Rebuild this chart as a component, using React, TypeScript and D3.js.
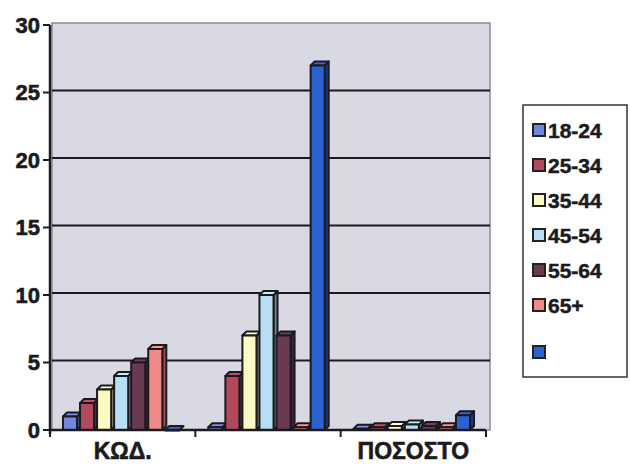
import React from "react";
import * as d3 from "d3";

const categories = ["ΚΩΔ.", "", "ΠΟΣΟΣΤΟ"];
const seriesNames = ["18-24", "25-34", "35-44", "45-54", "55-64", "65+", ""];
const seriesColors = ["#7088dc", "#b24a5e", "#fafac2", "#b8def6", "#6a3a52", "#f08a8a", "#2c62cf"];
const s1824 = [1, 0.2, 0.1];
const s2534 = [2, 4, 0.2];
const s3544 = [3, 7, 0.3];
const s4554 = [4, 10, 0.4];
const s5564 = [5, 7, 0.3];
const s65 = [6, 0.2, 0.2];
const sBlank = [0, 27, 1.1];
const seriesValues = [s1824, s2534, s3544, s4554, s5564, s65, sBlank];
const yTicks = [0, 5, 10, 15, 20, 25, 30];

export default function App() {
  const W = 630, H = 467;
  const left = 50, right = 486, top = 25, bottom = 430;
  const y = d3.scaleLinear().domain([0, 30]).range([bottom, top]);
  const x0 = d3.scaleBand<string>().domain(categories.map((_, i) => String(i))).range([left, right]).paddingInner(0).paddingOuter(0);
  const x1 = d3.scaleBand<string>().domain(seriesNames.map((_, i) => String(i))).range([0, x0.bandwidth()]).paddingInner(0).paddingOuter(0.76);
  const dep = 4;
  const font = "'Liberation Sans', Arial, sans-serif";
  const ink = "#1c1a1e";

  const bars: React.ReactNode[] = [];
  categories.forEach((c, ci) => {
    seriesValues.forEach((vals, si) => {
      const v = vals[ci];
      const bx = (x0(String(ci)) as number) + (x1(String(si)) as number);
      const bw = x1.bandwidth() - 3;
      const by = y(v);
      const bh = bottom - by;
      const col = seriesColors[si];
      const dark = d3.color(col)!.darker(1.4).formatHex();
      const light = d3.color(col)!.brighter(0.2).formatHex();
      bars.push(
        <g key={ci + "-" + si} stroke={ink} strokeWidth={2} strokeLinejoin="round">
          <path d={`M${bx + bw},${by} L${bx + bw + dep},${by - dep} L${bx + bw + dep},${bottom - dep} L${bx + bw},${bottom} Z`} fill={dark} />
          <path d={`M${bx},${by} L${bx + dep},${by - dep} L${bx + bw + dep},${by - dep} L${bx + bw},${by} Z`} fill={light} />
          <rect x={bx} y={by} width={bw} height={Math.max(bh, 0.5)} fill={col} />
        </g>
      );
    });
  });

  return (
    <svg width={W} height={H} style={{ position: "absolute", left: 0, top: 0, background: "#ffffff" }}>
      <rect x={left + 2} y={top - 2} width={right + 4 - left - 2} height={bottom - top + 2} fill="#d9d9e3" stroke="#8a8a95" strokeWidth={1.5} />
      {yTicks.filter(t => t > 0 && t < 30).map(t => (
        <line key={t} x1={left + 2} x2={right + 4} y1={y(t) - 2} y2={y(t) - 2} stroke={ink} strokeWidth={2} />
      ))}
      {bars}
      <line x1={left} x2={left} y1={top} y2={bottom + 4} stroke={ink} strokeWidth={2.5} />
      <line x1={left} x2={right} y1={bottom} y2={bottom} stroke={ink} strokeWidth={2.5} />
      {yTicks.map(t => (
        <g key={t}>
          <line x1={left - 7} x2={left} y1={y(t)} y2={y(t)} stroke={ink} strokeWidth={2} />
          <text x={left - 10} y={y(t)} dy="0.36em" textAnchor="end" fontFamily={font} fontWeight="bold" fontSize={22} fill={ink} stroke={ink} strokeWidth={0.6}>{t}</text>
        </g>
      ))}
      {d3.range(categories.length + 1).map(i => {
        const tx = left + i * x0.step();
        return <line key={i} x1={tx} x2={tx} y1={bottom} y2={bottom + 7} stroke={ink} strokeWidth={2} />;
      })}
      {categories.map((c, ci) => (
        <text key={ci} x={(x0(String(ci)) as number) + x0.bandwidth() / 2} y={459} textAnchor="middle" fontFamily={font} fontWeight="bold" fontSize={23} fill={ink} stroke={ink} strokeWidth={0.6}>{c}</text>
      ))}
      <rect x={523} y={105} width={104} height={272} fill="#ffffff" stroke="#333" strokeWidth={1.5} />
      {seriesNames.map((n, i) => {
        const ly = i < 6 ? 130 + i * 35 : 352;
        return (
          <g key={i}>
            <rect x={533} y={ly - 6} width={12} height={12} fill={seriesColors[i]} stroke="#222" strokeWidth={2} />
            <text x={548} y={ly} dy="0.36em" fontFamily={font} fontWeight="bold" fontSize={21} fill={ink} stroke={ink} strokeWidth={0.5}>{n}</text>
          </g>
        );
      })}
    </svg>
  );
}
